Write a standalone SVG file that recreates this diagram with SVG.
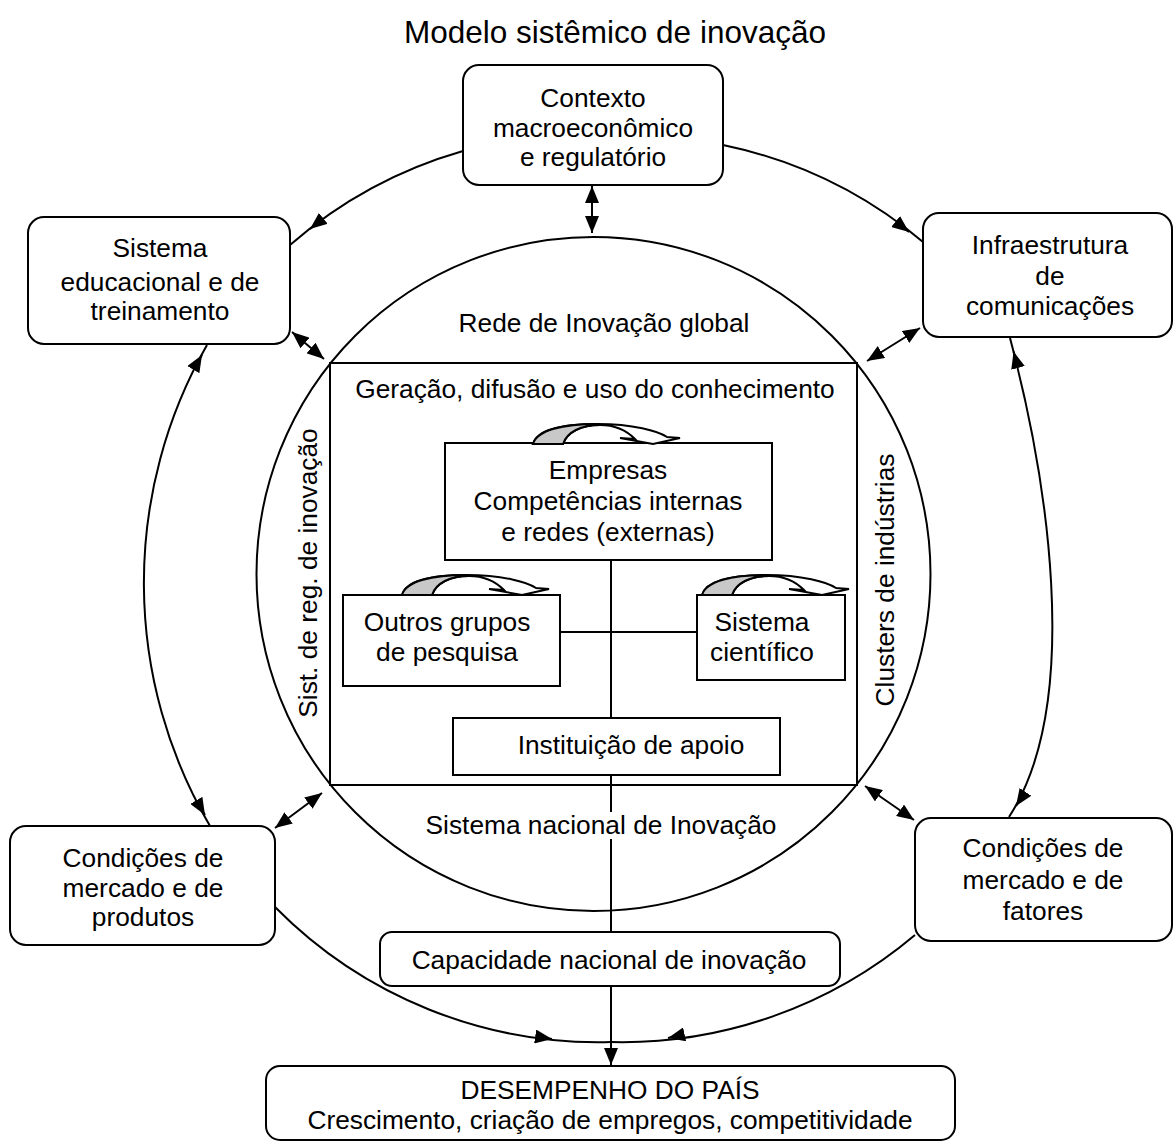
<svg xmlns="http://www.w3.org/2000/svg" width="1174" height="1147" viewBox="0 0 1174 1147">
<style>
.box{fill:#fff;stroke:#000;stroke-width:2}
.ln{fill:none;stroke:#000;stroke-width:2}
text{font-family:"Liberation Sans",Arial,sans-serif;font-size:26.3px;fill:#000;text-anchor:middle}
</style>
<defs>
<marker id="ah" viewBox="0 0 17 14" refX="17" refY="7" markerWidth="17" markerHeight="14" markerUnits="userSpaceOnUse" orient="auto-start-reverse"><path d="M0,0 L17,7 L0,14 Z" fill="#000"/></marker>
<g id="curl">
<path d="M0,0 C4,-14 30,-20 65,-20 C100,-20 125,-13 134,-7 L147,-6 L120,0 L87,-6 L102,-5 C97,-10 86,-19 67,-19 C48,-19 34,-12 30,0 Z" fill="#fff" stroke="#000" stroke-width="2"/>
<path d="M0,0 C4,-14 30,-20 65,-20 L67,-19 C48,-19 34,-12 30,0 Z" fill="#c8c8c8" stroke="#000" stroke-width="2"/>
</g>
</defs>
<rect width="1174" height="1147" fill="#fff"/>
<text x="615" y="43" style="font-size:31.5px">Modelo sistêmico de inovação</text>

<g id="connectors">
<circle cx="593.5" cy="574" r="337" class="ln"/>
<path class="ln" d="M463,151 A454,454 0 0 0 290,245"/>
<path class="ln" d="M319.4,221.5 L310,229" marker-end="url(#ah)"/>
<path class="ln" d="M723,145 A454,454 0 0 1 923,242"/>
<path class="ln" d="M899.6,224.6 L909,232" marker-end="url(#ah)"/>
<path class="ln" d="M207,345 A480,480 0 0 0 210,826"/>
<path class="ln" d="M195.9,365.3 L202,355" marker-end="url(#ah)"/>
<path class="ln" d="M198.9,804.7 L205,815" marker-end="url(#ah)"/>
<path class="ln" d="M1010,338 C1045,470 1085,700 1009,817"/>
<path class="ln" d="M1016.2,361.2 L1013.6,351.5" marker-end="url(#ah)"/>
<path class="ln" d="M1022,797 L1016,806" marker-end="url(#ah)"/>
<path class="ln" d="M275,907 A454,454 0 0 0 611,1042"/>
<path class="ln" d="M540,1037.2 L552,1039" marker-end="url(#ah)"/>
<path class="ln" d="M915,935 A454,454 0 0 1 611,1042"/>
<path class="ln" d="M679.7,1035.4 L668,1038" marker-end="url(#ah)"/>
<path class="ln" d="M592,186 L592,233" marker-start="url(#ah)" marker-end="url(#ah)"/>
<path class="ln" d="M292,332 L324,359" marker-start="url(#ah)" marker-end="url(#ah)"/>
<path class="ln" d="M920,328 L867,361" marker-start="url(#ah)" marker-end="url(#ah)"/>
<path class="ln" d="M275,828 L322,793" marker-start="url(#ah)" marker-end="url(#ah)"/>
<path class="ln" d="M865,786 L914,820" marker-start="url(#ah)" marker-end="url(#ah)"/>
<path class="ln" d="M611,560 L611,1065" marker-end="url(#ah)"/>
<path class="ln" d="M560,632 L697,632"/>
</g>

<g id="node-contexto">
<rect class="box" x="463" y="65" width="260" height="120" rx="16"/>
<text x="593" y="107">Contexto</text>
<text x="593" y="137">macroeconômico</text>
<text x="593" y="166">e regulatório</text>
</g>
<g id="node-educacional">
<rect class="box" x="28" y="217" width="262" height="127" rx="16"/>
<text x="160" y="257">Sistema</text>
<text x="160" y="291">educacional e de</text>
<text x="160" y="320">treinamento</text>
</g>
<g id="node-infra">
<rect class="box" x="923" y="213" width="249" height="124" rx="16"/>
<text x="1050" y="254">Infraestrutura</text>
<text x="1050" y="285">de</text>
<text x="1050" y="315">comunicações</text>
</g>
<g id="node-global">
<text x="604" y="332">Rede de Inovação global</text>
</g>
<g id="node-conhecimento">
<rect class="ln" x="330" y="363" width="527" height="422"/>
<text x="595" y="398">Geração, difusão e uso do conhecimento</text>
<text transform="translate(317,573) rotate(-90)" x="0" y="0">Sist. de reg. de inovação</text>
<text transform="translate(894,580) rotate(-90)" x="0" y="0">Clusters de indústrias</text>
</g>
<g id="node-empresas">
<rect class="box" x="445" y="443" width="327" height="117"/>
<use href="#curl" transform="translate(533,444)"/>
<text x="608" y="479">Empresas</text>
<text x="608" y="510">Competências internas</text>
<text x="608" y="541">e redes (externas)</text>
</g>
<g id="node-outros">
<rect class="box" x="343" y="595" width="217" height="91"/>
<use href="#curl" transform="translate(402,595)"/>
<text x="447" y="631">Outros grupos</text>
<text x="447" y="661">de pesquisa</text>
</g>
<g id="node-cientifico">
<rect class="box" x="697" y="595" width="148" height="85"/>
<use href="#curl" transform="translate(702,595)"/>
<text x="762" y="631">Sistema</text>
<text x="762" y="661">científico</text>
</g>
<g id="node-apoio">
<rect class="box" x="453" y="718" width="327" height="57"/>
<text x="631" y="754">Instituição de apoio</text>
</g>
<g id="node-nacional">
<rect x="424" y="812" width="355" height="27" fill="#fff"/>
<text x="601" y="834">Sistema nacional de Inovação</text>
</g>
<g id="node-mercado-produtos">
<rect class="box" x="10" y="826" width="265" height="119" rx="16"/>
<text x="143" y="867">Condições de</text>
<text x="143" y="897">mercado e de</text>
<text x="143" y="926">produtos</text>
</g>
<g id="node-mercado-fatores">
<rect class="box" x="915" y="818" width="257" height="123" rx="16"/>
<text x="1043" y="857">Condições de</text>
<text x="1043" y="889">mercado e de</text>
<text x="1043" y="920">fatores</text>
</g>
<g id="node-capacidade">
<rect class="box" x="380" y="932" width="460" height="54" rx="12"/>
<text x="609" y="969">Capacidade nacional de inovação</text>
</g>
<g id="node-desempenho">
<rect class="box" x="266" y="1066" width="689" height="74" rx="14"/>
<text x="610" y="1099">DESEMPENHO DO PAÍS</text>
<text x="610" y="1129">Crescimento, criação de empregos, competitividade</text>
</g>
</svg>
